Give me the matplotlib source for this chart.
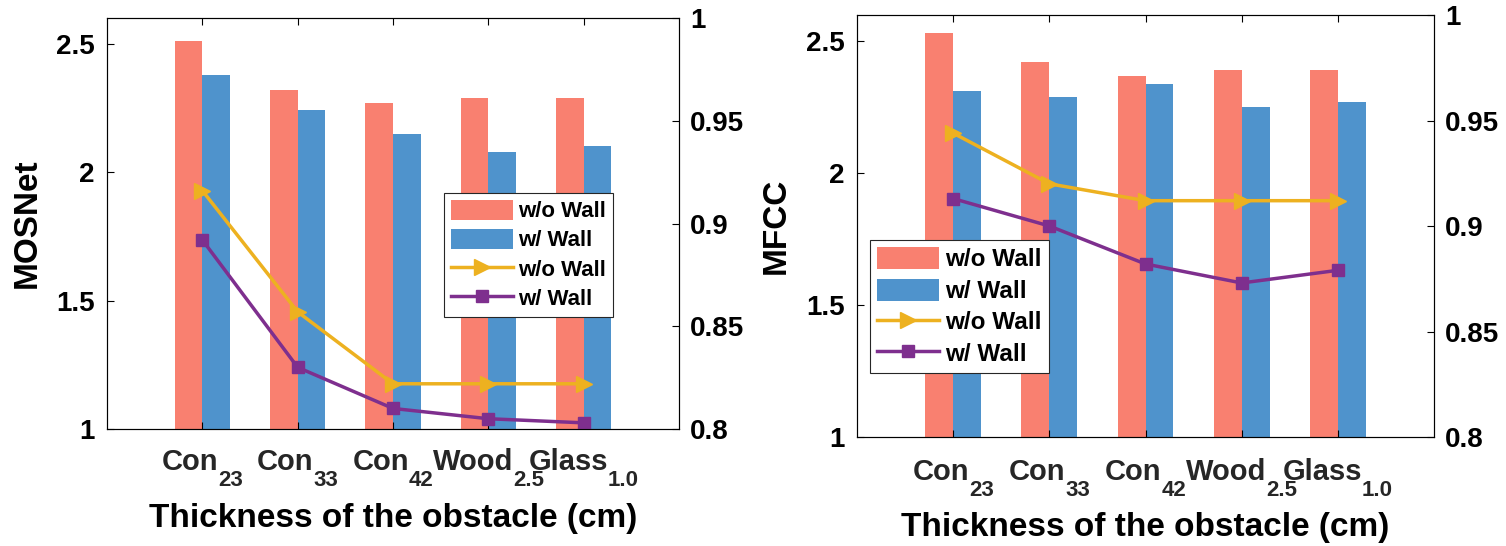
import numpy as np
import matplotlib
matplotlib.use("Agg")
from matplotlib import pyplot as plt
from matplotlib import transforms

# material / thickness categories
materials = ['Con', 'Con', 'Con', 'Wood', 'Glass']
thickness = ['23', '33', '42', '2.5', '1.0']

# MOSNet panel
mos_no_wall = [2.51, 2.32, 2.27, 2.29, 2.29]
mos_wall = [2.38, 2.24, 2.15, 2.08, 2.10]
mos_line_no_wall = [0.916, 0.857, 0.822, 0.822, 0.822]
mos_line_wall = [0.892, 0.830, 0.810, 0.805, 0.803]

# MFCC panel
mfcc_no_wall = [2.53, 2.42, 2.37, 2.39, 2.39]
mfcc_wall = [2.31, 2.29, 2.34, 2.25, 2.27]
mfcc_line_no_wall = [0.944, 0.920, 0.912, 0.912, 0.912]
mfcc_line_wall = [0.913, 0.900, 0.882, 0.873, 0.879]

red = '#F98070'
blue = '#4F93CC'
yellow = '#EDB120'
purple = '#7E2F8E'

plt.rcParams['font.family'] = ['Liberation Sans', 'DejaVu Sans']
plt.rcParams['font.weight'] = 'bold'

fig = plt.figure(figsize=(15.06, 5.46), dpi=100)
W, H = 1506, 546
tick_texts = []


def panel(rect, ylab, bars_a, bars_b, line_a, line_b, legend_box, legend_size,
          label_drop, xlabel_y, ylabel_x):
    ax = fig.add_axes(rect)
    x = np.arange(1, 6)
    w = 0.29
    b1 = ax.bar(x - w / 2, np.array(bars_a) - 1, w, bottom=1, color=red, linewidth=0)
    b2 = ax.bar(x + w / 2, np.array(bars_b) - 1, w, bottom=1, color=blue, linewidth=0)
    ax.set_xlim(0, 6)
    ax.set_ylim(1, 2.6)
    ax.set_yticks([1, 1.5, 2, 2.5])
    ax.set_yticklabels(['1', '1.5', '2', '2.5'])
    ax.set_xticks(x)
    ax.set_xticklabels([])
    ax.tick_params(axis='both', direction='in', length=5, width=0.8, top=True)
    ax.tick_params(axis='y', labelsize=20, pad=9)
    ax.set_ylabel(ylab, fontsize=24, fontweight='bold')
    ax.yaxis.set_label_coords(ylabel_x, 0.5)
    ax.set_xlabel('Thickness of the obstacle (cm)', fontsize=24, fontweight='bold')
    ax.xaxis.set_label_coords(0.5, xlabel_y)
    for s in ax.spines.values():
        s.set_linewidth(0.8)
        s.set_color('#262626')

    # category labels: name plus a lowered subscript
    base = transforms.blended_transform_factory(ax.transData, ax.transAxes)
    for xi, m, t in zip(x, materials, thickness):
        tm = ax.text(xi, 0, m, transform=base, fontsize=21, ha='left', va='baseline',
                     color='#262626', clip_on=False)
        ts = ax.text(xi, 0, t, transform=base, fontsize=16, ha='left', va='baseline',
                     color='#262626', clip_on=False)
        tick_texts.append((ax, base, tm, ts, label_drop))

    ax2 = ax.twinx()
    l1, = ax2.plot(x, line_a, color=yellow, lw=2.5, marker='>', ms=11)
    l2, = ax2.plot(x, line_b, color=purple, lw=2.5, marker='s', ms=8)
    ax2.set_ylim(0.8, 1.0)
    ax2.set_yticks([0.8, 0.85, 0.9, 0.95, 1.0])
    ax2.set_yticklabels(['0.8', '0.85', '0.9', '0.95', '1'])
    ax2.tick_params(axis='y', direction='in', length=5, width=0.8, labelsize=20, pad=8)

    leg = ax2.legend([b1, b2, l1, l2], ['w/o Wall', 'w/ Wall', 'w/o Wall', 'w/ Wall'],
                     loc='upper left', bbox_to_anchor=legend_box, bbox_transform=fig.transFigure,
                     fontsize=legend_size, frameon=True, fancybox=False, framealpha=1,
                     edgecolor='#262626', handlelength=62 / (legend_size * 100 / 72),
                     handleheight=1.0, labelspacing=0.3, borderpad=0.3, handletextpad=0.25,
                     borderaxespad=0, numpoints=1)
    leg.get_frame().set_linewidth(0.8)
    return ax, ax2


def rect(x0, x1, y0, y1):
    return [x0 / W, 1 - y1 / H, (x1 - x0) / W, (y1 - y0) / H]


panel(rect(107, 679, 18, 429), 'MOSNet', mos_no_wall, mos_wall,
      mos_line_no_wall, mos_line_wall, (444 / W, 1 - 193 / H), 16,
      41, -0.18, -0.112)
panel(rect(857, 1434, 15, 437), 'MFCC', mfcc_no_wall, mfcc_wall,
      mfcc_line_no_wall, mfcc_line_wall, (870 / W, 1 - 240 / H), 17.5,
      43, -0.178, -0.113)

# centre each name+subscript pair under its tick
fig.canvas.draw()
renderer = fig.canvas.get_renderer()
for ax, base, tm, ts, drop in tick_texts:
    w1 = tm.get_window_extent(renderer).width
    w2 = ts.get_window_extent(renderer).width
    total = w1 + w2
    tm.set_transform(transforms.offset_copy(base, fig=fig, x=-total / 2, y=-drop, units='dots'))
    ts.set_transform(transforms.offset_copy(base, fig=fig, x=-total / 2 + w1, y=-drop - 16,
                                            units='dots'))

fig.savefig('out.png', dpi=100)
